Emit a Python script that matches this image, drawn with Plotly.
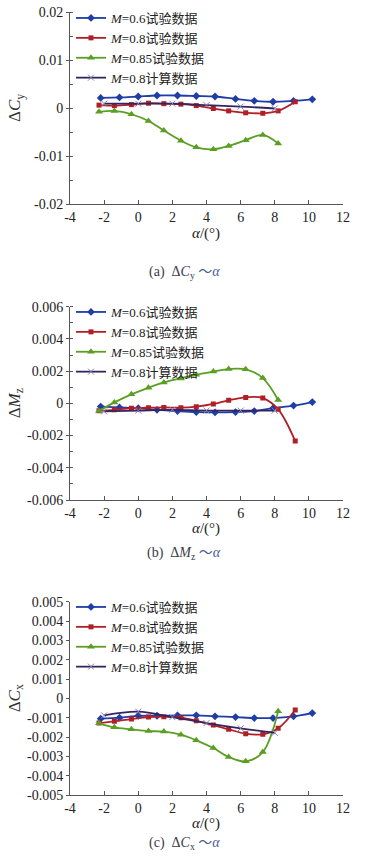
import plotly.graph_objects as go

# ---------------- data ----------------
alpha_06 = [-2.2, -1.1, 0.0, 1.1, 2.3, 3.4, 4.5, 5.7, 6.8, 7.9, 9.1, 10.2]
alpha_08 = [-2.3, -1.4, -0.4, 0.6, 1.5, 2.5, 3.4, 4.4, 5.3, 6.3, 7.3, 8.2, 9.2]
alpha_085 = [-2.3, -1.4, -0.4, 0.6, 1.5, 2.5, 3.4, 4.4, 5.3, 6.3, 7.3, 8.2]
alpha_calc = [-2, 0, 2, 4, 6, 8]

cy_06 = [0.0021, 0.0022, 0.0024, 0.0026, 0.0026, 0.0025, 0.0024, 0.0019, 0.0015, 0.0013, 0.0015, 0.0018]
cy_08 = [0.0006, 0.0005, 0.0007, 0.0010, 0.0009, 0.0008, 0.0005, -0.0001, -0.0006, -0.0010, -0.0011, -0.0006, 0.0013]
cy_085 = [-0.0008, -0.0006, -0.0013, -0.0027, -0.0047, -0.0068, -0.0082, -0.0086, -0.0079, -0.0067, -0.0056, -0.0074]
cy_calc = [0.0009, 0.0009, 0.0009, 0.0006, 0.0003, -0.0001]

mz_06 = [-0.0002, -0.00025, -0.0003, -0.0004, -0.00048, -0.00054, -0.00056, -0.00054, -0.00048, -0.0003, -0.00014, 0.00008]
mz_08 = [-0.00046, -0.0004, -0.00031, -0.00027, -0.00025, -0.00027, -0.00021, -0.00004, 0.00019, 0.00037, 0.00033, -0.00037, -0.00234]
mz_085 = [-0.00048, 0.00006, 0.00056, 0.00097, 0.0013, 0.00155, 0.00178, 0.00197, 0.00213, 0.00211, 0.00157, 0.00021]
mz_calc = [-0.0005, -0.00045, -0.0004, -0.00045, -0.00045, -0.00045]

cx_06 = [-0.00105, -0.0010, -0.00091, -0.0009, -0.00088, -0.00088, -0.00093, -0.00097, -0.00102, -0.00102, -0.00093, -0.00076]
cx_08 = [-0.00128, -0.00119, -0.00107, -0.00097, -0.00095, -0.0010, -0.00116, -0.00138, -0.0016, -0.00183, -0.00186, -0.00155, -0.0006]
cx_085 = [-0.00129, -0.0015, -0.0016, -0.00169, -0.00172, -0.00188, -0.00217, -0.00257, -0.00303, -0.00326, -0.00278, -0.00067]
cx_calc = [-0.00088, -0.00069, -0.00097, -0.00128, -0.00155, -0.00178]

series_names = ["<i>M</i>=0.6试验数据", "<i>M</i>=0.8试验数据", "<i>M</i>=0.85试验数据", "<i>M</i>=0.8计算数据"]

x_tickvals = [-4, -2, 0, 2, 4, 6, 8, 10, 12]
x_ticktext = ["-4", "-2", "0", "2", "4", "6", "8", "10", "12"]

ya_vals = [-0.02, -0.01, 0, 0.01, 0.02]
ya_text = ["-0.02", "-0.01", "0", "0.01", "0.02"]
yb_vals = [-0.006, -0.004, -0.002, 0, 0.002, 0.004, 0.006]
yb_text = ["-0.006", "-0.004", "-0.002", "0", "0.002", "0.004", "0.006"]
yc_vals = [-0.005, -0.004, -0.003, -0.002, -0.001, 0, 0.001, 0.002, 0.003, 0.004, 0.005]
yc_text = ["-0.005", "-0.004", "-0.003", "-0.002", "-0.001", "0", "0.001", "0.002", "0.003", "0.004", "0.005"]

y_titles = ["Δ<i>C</i><sub>y</sub>", "Δ<i>M</i><sub>z</sub>", "Δ<i>C</i><sub>x</sub>"]
captions = ["(a)  Δ<i>C</i><sub>y</sub> <span style='color:#4a5c96'>～<i>α</i></span>",
            "(b)  Δ<i>M</i><sub>z</sub> <span style='color:#4a5c96'>～<i>α</i></span>",
            "(c)  Δ<i>C</i><sub>x</sub> <span style='color:#4a5c96'>～<i>α</i></span>"]

# ---------------- styling ----------------
FONT = "Liberation Serif, 'Noto Sans CJK SC', serif"
C_BLUE = "#1e3da6"
C_RED = "#b01f26"
C_GREEN = "#5a9e22"
C_CALC = "#34245f"

W, H = 367, 865
ML, MR, MT, MB = 70, 24, 12, 70
PH = H - MT - MB


def py(pix):
    # pixel row -> paper y
    return (H - MB - pix) / PH


def px(pix):
    return (pix - ML) / (W - ML - MR)


panels = [
    dict(ys=[cy_06, cy_08, cy_085, cy_calc], top=12, bot=204, rng=[-0.02, 0.02],
         tv=ya_vals, tt=ya_text, minor=0.005, xt=233, cap=272, leg=3),
    dict(ys=[mz_06, mz_08, mz_085, mz_calc], top=306.7, bot=500, rng=[-0.006, 0.006],
         tv=yb_vals, tt=yb_text, minor=0.001, xt=528, cap=553, leg=297),
    dict(ys=[cx_06, cx_08, cx_085, cx_calc], top=601.7, bot=795, rng=[-0.005, 0.005],
         tv=yc_vals, tt=yc_text, minor=None, xt=823, cap=843, leg=592),
]

styles = [
    dict(color=C_BLUE, marker=dict(symbol="diamond", size=6, color=C_BLUE)),
    dict(color=C_RED, marker=dict(symbol="square", size=5, color=C_RED)),
    dict(color=C_GREEN, marker=dict(symbol="triangle-up", size=7, color=C_GREEN)),
    dict(color=C_CALC, marker=dict(symbol="x-thin", size=6, color="#8a7fb0",
                                   line=dict(color="#8a7fb0", width=1))),
]
xs_all = [alpha_06, alpha_08, alpha_085, alpha_calc]

fig = go.Figure()
layout = dict(
    width=W, height=H,
    margin=dict(l=ML, r=MR, t=MT, b=MB, autoexpand=False),
    paper_bgcolor="white", plot_bgcolor="white",
    font=dict(family=FONT, size=14, color="#222"),
    showlegend=True,
)
annotations = []

for i, p in enumerate(panels):
    n = "" if i == 0 else str(i + 1)
    xa = "x" + n
    ya = "y" + n
    legname = "legend" + n
    for j in range(4):
        fig.add_trace(go.Scatter(
            x=xs_all[j], y=p["ys"][j], mode="lines+markers",
            name=series_names[j],
            line=dict(color=styles[j]["color"], width=1.8, shape="spline"),
            marker=styles[j]["marker"],
            xaxis=xa, yaxis=ya, legend=legname,
        ))
    dom = [py(p["bot"]), py(p["top"])]
    layout["xaxis" + n] = dict(
        domain=[0, 1], anchor=ya, range=[-4, 12], tickvals=x_tickvals, ticktext=x_ticktext,
        showline=True, linecolor="#555", linewidth=1, ticks="inside", ticklen=4,
        tickcolor="#555", showgrid=False, zeroline=False, automargin=False,
        tickfont=dict(family=FONT, size=14, color="#222"),
    )
    yax = dict(
        domain=dom, anchor=xa, range=p["rng"], tickvals=p["tv"], ticktext=p["tt"],
        showline=True, linecolor="#555", linewidth=1, ticks="outside", ticklen=3,
        tickcolor="#555", showgrid=False, zeroline=False, automargin=False,
        tickfont=dict(family=FONT, size=14, color="#222"),
    )
    if p["minor"]:
        yax["minor"] = dict(dtick=p["minor"], ticks="inside", ticklen=3, tickcolor="#555", showgrid=False)
    layout["yaxis" + n] = yax
    layout[legname] = dict(
        x=px(71), y=py(p["leg"]), xanchor="left", yanchor="top",
        bgcolor="rgba(0,0,0,0)", tracegroupgap=0, itemwidth=30,
        font=dict(family=FONT, size=13, color="#222"),
    )
    annotations.append(dict(
        text=y_titles[i], xref="paper", yref="paper", x=px(16), y=py((p["top"] + p["bot"]) / 2),
        showarrow=False, textangle=-90, font=dict(family=FONT, size=17, color="#333"),
        xanchor="center", yanchor="middle"))
    annotations.append(dict(
        text="<i>α</i>/(°)", xref="paper", yref="paper", x=px(206), y=py(p["xt"]),
        showarrow=False, font=dict(family=FONT, size=15, color="#222"),
        xanchor="center", yanchor="middle"))
    annotations.append(dict(
        text=captions[i], xref="paper", yref="paper", x=px(184), y=py(p["cap"]),
        showarrow=False, font=dict(family=FONT, size=14, color="#3a3a48"),
        xanchor="center", yanchor="middle"))

layout["annotations"] = annotations
fig.update_layout(**layout)
fig.write_html("out.html", config={"displayModeBar": False},
               post_script="document.body.style.margin='0';document.body.style.padding='0';")
